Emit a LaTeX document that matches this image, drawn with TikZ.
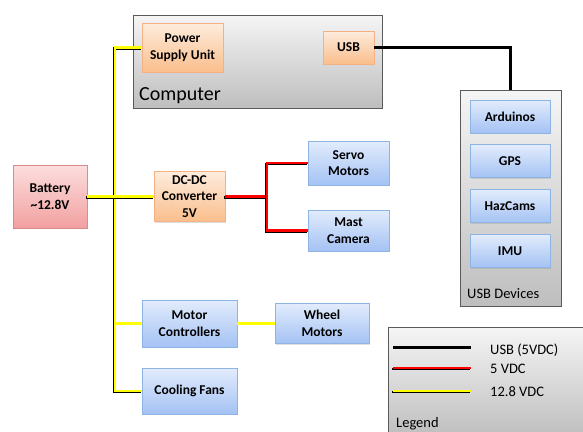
\documentclass[tikz,border=0pt]{standalone}
\usepackage{fontspec}
\setmainfont{Carlito}
\usetikzlibrary{shapes,arrows,fit,positioning,shadows}
\definecolor{battop}{RGB}{252,222,222}
\definecolor{batbot}{RGB}{242,160,160}
\definecolor{batline}{RGB}{217,140,140}
\definecolor{orgtop}{RGB}{253,236,221}
\definecolor{orgbot}{RGB}{250,190,140}
\definecolor{orgline}{RGB}{244,177,131}
\definecolor{blutop}{RGB}{226,236,252}
\definecolor{blubot}{RGB}{164,194,244}
\definecolor{bluline}{RGB}{142,180,227}
\definecolor{grytop}{RGB}{245,245,245}
\definecolor{grybot}{RGB}{190,190,190}
\definecolor{gryline}{RGB}{90,90,90}
\definecolor{volt}{RGB}{255,255,0}

\begin{document}
\begin{tikzpicture}[x=1pt,y=-1pt,% one unit is one pixel of the sketch
				every node/.style={
					align=center,  		% lets "\\" break the lines
					inner sep=0pt,
					font=\fontsize{13.5}{16.5}\selectfont\bfseries
				},
				box/.style={rectangle,draw,line width=0.8pt,
					drop shadow={opacity=0.25,shadow xshift=1.2pt,shadow yshift=-1.2pt}},
				batbox/.style={box,draw=batline,top color=battop,bottom color=batbot},
				orgbox/.style={box,draw=orgline,top color=orgtop,bottom color=orgbot},
				blubox/.style={box,draw=bluline,top color=blutop,bottom color=blubot},
				grybox/.style={box,draw=gryline,top color=grytop,bottom color=grybot},
				label/.style={font=\fontsize{14.5}{17}\selectfont,anchor=base west},
				wire/.style={line width=2.6pt,
					preaction={draw=black,line width=2.6pt,transform canvas={shift={(-1pt,-1pt)}}}},
				vwire/.style={wire,draw=volt},	% 12.8 VDC
				rwire/.style={wire,draw=red},	% 5 VDC
				uwire/.style={draw=black,line width=2.2pt}	% USB
			]
			\clip (0,0) rectangle (583,431);
			% containers
			\node[grybox,minimum width=249pt,minimum height=93pt](Comp) at (257.5,61.5){};
			\node[label,font=\fontsize{20}{23}\selectfont] at (139,100){Computer};
			\node[grybox,minimum width=101pt,minimum height=216pt](Devs) at (510.5,198){};
			\node[label] at (467,298){USB Devices};
			\node[grybox,minimum width=210pt,minimum height=110pt](Leg) at (493,382){};
			\node[label] at (396,427){Legend};
			% computer parts
			\node[orgbox,minimum width=81pt,minimum height=49pt](PSU) at (182.5,47.5){Power\\Supply Unit};
			\node[orgbox,minimum width=51pt,minimum height=33pt](USB) at (348.5,47.5){USB};
			% usb devices
			\node[blubox,minimum width=80pt,minimum height=33pt](Ard) at (510,116.5){Arduinos};
			\node[blubox,minimum width=80pt,minimum height=33pt](GPS)[below=11pt of Ard]{GPS};
			\node[blubox,minimum width=80pt,minimum height=33pt](Haz)[below=11pt of GPS]{HazCams};
			\node[blubox,minimum width=80pt,minimum height=33pt](IMU)[below=11pt of Haz]{IMU};
			% power side
			\node[batbox,minimum width=74pt,minimum height=63pt](Bat) at (50,196.5){Battery\\\textasciitilde12.8V};
			\node[orgbox,minimum width=71pt,minimum height=50pt](Conv) at (189.5,196.5){DC-DC\\Converter\\5V};
			\node[blubox,minimum width=81pt,minimum height=44pt](Servo) at (348.5,163){Servo\\Motors};
			\node[blubox,minimum width=81pt,minimum height=41pt](Mast) at (348.5,230.5){Mast\\Camera};
			\node[blubox,minimum width=95pt,minimum height=47pt](MC) at (189.5,323.5){Motor\\Controllers};
			\node[blubox,minimum width=94pt,minimum height=40pt](Wheel) at (322,323.5){Wheel\\Motors};
			\node[blubox,minimum width=95pt,minimum height=46pt](Fans) at (189.5,391){Cooling Fans};
			% wiring
			\coordinate (bus) at (115,47.5);
			\coordinate (split) at (267,196.5);
			\draw[vwire] (PSU.west) -- (bus) |- (Fans.west);
			\draw[vwire] (Bat.east) -- (Conv.west);
			\path[vwire]
			(bus |- MC.west)edge []	node [] {} (MC.west)
			(MC.east)edge []	node [] {} (Wheel.west)
			;
			\draw[rwire] (Conv.east) -- (split);
			\draw[rwire] (Servo.west) -| (split) |- (Mast.west);
			\draw[uwire] (USB.east) -| (Devs.north);
			% legend
			\coordinate (k1) at (393,347.5);
			\coordinate (k2) at (393,368);
			\coordinate (k3) at (393,391);
			\draw[uwire] (k1) -- ++(78,0);
			\draw[rwire] (k2) -- ++(78,0);
			\draw[vwire] (k3) -- ++(78,0);
			\node[label] at (490,354){USB (5VDC)};
			\node[label] at (490,373){5 VDC};
			\node[label] at (490,396){12.8 VDC};
		\end{tikzpicture}
\end{document}
